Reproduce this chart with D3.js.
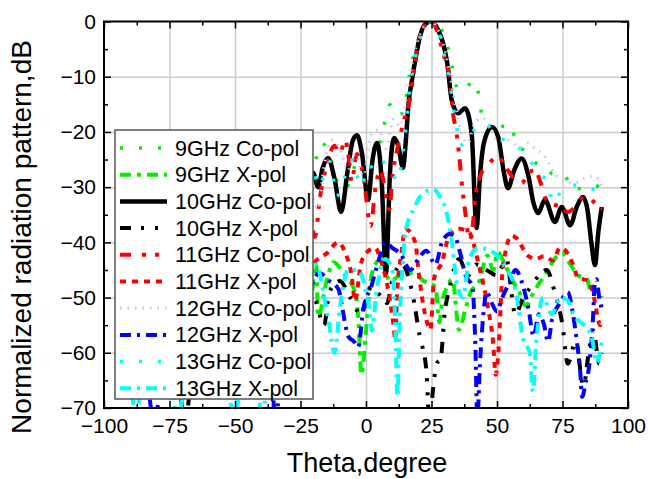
<!DOCTYPE html>
<html>
<head>
<meta charset="utf-8">
<title>Radiation pattern</title>
<script src="https://cdn.jsdelivr.net/npm/d3@7/dist/d3.min.js"></script>
<style>
body { margin: 0; background: #fff; }
text { font-family: "Liberation Sans", Arial, sans-serif; }
</style>
</head>
<body>
<script>
// [theta, dB] samples
var co9 = [[-90,-33],[-80,-30],[-70,-35],[-60,-29],[-50,-33],[-40,-28],[-30,-31],[-24,-27],[-20,-26],[-17,-22],[-14,-24],[-11,-29],[-8,-30.5],[-5,-27],[-1,-22.7],[2,-22],[4,-24],[6.9,-18.7],[9.2,-15.1],[11.5,-17],[14,-16.6],[16.8,-9.1],[18.7,-5.2],[21,-2],[25,0],[28.2,-1],[31.3,-4.8],[33,-8.4],[35.1,-12.4],[37.5,-12.5],[40.8,-10.7],[43.5,-14.4],[44.5,-18.2],[47,-19],[49.9,-17.8],[52.5,-19],[55.2,-18.6],[57.5,-22.4],[61,-23.5],[65.1,-25.7],[68,-26],[71.3,-27.6],[75,-27.5],[79.4,-30.5],[83,-30],[87.4,-29.6],[90,-31]];
var x9 = [[-90,-50],[-85,-55],[-80,-48],[-75,-53],[-70,-47],[-65,-56],[-60,-50],[-55,-54],[-50,-48],[-45,-55],[-40,-49],[-35,-53],[-30,-47],[-25,-52],[-21,-50],[-19,-44],[-18.3,-53.5],[-15,-47],[-12.5,-43.6],[-8,-46],[-4.2,-49],[-3,-53.3],[-1.7,-64],[0,-56],[1.5,-48],[3.5,-44],[6,-43],[9,-47],[13,-46],[18,-45.5],[22,-47],[26.5,-48],[28,-54.5],[29,-51],[31,-48],[33,-46.7],[35.5,-55.8],[38,-52],[40,-49],[43,-47.3],[46.4,-42.4],[48.5,-45],[50.3,-41.8],[53,-44],[56,-47],[58.5,-49],[61,-51.5],[64,-49],[68.8,-45.5],[72,-43],[75,-42],[78,-44],[81,-46],[84.2,-46.5],[86,-49],[89,-49],[90,-50]];
var co10 = [[-90,-34],[-85,-30],[-80,-36],[-75,-31],[-70,-38],[-65,-32],[-60,-40],[-55,-33],[-50,-36],[-45,-30],[-40,-38],[-35,-29],[-30,-35],[-25,-28],[-20.2,-27.4],[-18.3,-30],[-16.5,-26.5],[-14.5,-24.7],[-12,-28.5],[-9.5,-34.5],[-7,-27],[-5,-21.5],[-3.4,-20.6],[-1.5,-24],[0.8,-32.3],[2.5,-25],[4.2,-22],[6,-29],[7.6,-45.6],[9.2,-27],[10.7,-21.1],[12.3,-22.5],[14.1,-26.5],[15.3,-21],[16.2,-15],[17.4,-11],[19.3,-5.7],[20.6,-2.7],[23,-0.3],[25,0],[27.5,-1.5],[29.4,-3.9],[31,-7.5],[32.7,-14.2],[35.2,-16.6],[37.8,-15.7],[40.3,-20.2],[42.2,-37.4],[43.5,-28],[45,-22],[48,-19.1],[50.5,-21],[52.5,-27],[54.2,-30.2],[56.5,-27],[59.4,-24.8],[62,-28],[64,-33],[65.7,-34.7],[68.3,-32.3],[72.1,-36.3],[74.7,-33.6],[77.9,-36.9],[80.5,-33.5],[82.8,-31.8],[84.5,-34],[86,-40],[87.4,-44.1],[88.7,-38],[90,-33.6]];
var x10 = [[-90,-52],[-85,-58],[-80,-50],[-75,-55],[-72,-62],[-69,-73],[-66,-60],[-60,-52],[-55,-57],[-50,-50],[-45,-56],[-40,-52],[-35,-60],[-30,-51],[-25,-55],[-20,-50],[-16,-55],[-14,-49],[-10,-47],[-6,-50],[-2,-53],[2,-48],[6,-50],[8,-51],[10,-47],[13.7,-44],[17.6,-49],[20.5,-57],[23,-63],[24.3,-73],[25.5,-67],[27,-62],[28.5,-61],[30,-53],[32,-48],[35.5,-43],[39,-46],[42,-44],[46,-45],[50,-46],[53.5,-43],[57,-53],[60,-50],[63,-48],[66,-46],[69,-45],[72,-49],[75,-55],[77,-62],[80,-58],[83,-66],[85,-60],[86.8,-56],[89,-62],[90,-60]];
var co11 = [[-90,-36],[-80,-31],[-70,-38],[-60,-30],[-50,-37],[-40,-29],[-30,-34],[-22,-33],[-19.5,-39],[-17.6,-32],[-15,-26],[-12,-22.5],[-10,-24],[-8,-21.5],[-6.5,-25],[-5.5,-29],[-3.5,-24],[-1,-28],[1.8,-37],[3.5,-30.5],[5.5,-27],[7.5,-31],[9,-34],[10,-28.5],[12,-23],[14.7,-17.5],[16.8,-14],[18.7,-7.5],[21.3,-1.5],[25,0],[27,-1.5],[29.4,-5.7],[32,-10.6],[33.3,-17],[34.5,-20],[35.5,-24],[36.5,-29],[38,-35],[39.5,-39.5],[40.5,-38],[41.7,-32],[44,-27.5],[46,-26.3],[50.4,-24.5],[53.5,-26.5],[56.9,-28.7],[59.4,-29.3],[62,-27.5],[64.5,-26.9],[66.5,-29],[68.3,-31.8],[71,-33],[74.7,-33.6],[77,-34.5],[79.8,-33.6],[82.5,-32],[85,-32],[87.4,-32.9],[90,-34]];
var x11 = [[-90,-48],[-85,-53],[-80,-45],[-75,-50],[-70,-44],[-65,-52],[-60,-46],[-55,-50],[-50,-44],[-45,-51],[-40,-45],[-35,-52],[-30,-46],[-25,-48],[-19.6,-43.6],[-15,-42],[-10.6,-40],[-8,-41.8],[-5.5,-46],[-4.2,-50.6],[-2,-44],[0,-42],[3.5,-41],[5.5,-43],[7.3,-46],[9,-50],[10.5,-55],[11.2,-57.6],[11.8,-50],[13.5,-42],[15,-37.6],[18.8,-40],[20,-45],[21.4,-50],[23,-54],[24.6,-55.8],[26,-46.5],[29,-43.6],[31.7,-38.8],[35,-37.5],[39.4,-38.2],[41.5,-41],[43,-44],[45,-48],[47,-53],[48.5,-58],[49.5,-64],[50.5,-60],[52,-46],[53.5,-41.2],[55.4,-38.8],[58,-39.5],[60,-41.2],[62,-42.5],[65,-43],[68,-42.5],[71.4,-43.3],[74,-41],[77,-42],[79,-44],[81,-46.5],[83,-46.7],[85,-47],[87,-50],[89.4,-55],[90,-54]];
var co12 = [[-90,-35],[-70,-32],[-50,-36],[-30,-30],[-22,-30],[-18.3,-34],[-16,-26],[-13,-21.5],[-10,-23],[-7,-27],[-4,-24],[-1,-28],[2,-20.5],[5,-19.6],[7.5,-23],[10.6,-17.7],[13,-19],[15,-15],[17,-9],[19.5,-4],[22,-1],[25,0],[28,-2],[30,-5],[32,-9.5],[33.5,-13.5],[35,-17],[37,-21],[39,-22],[41,-19],[44,-17.5],[47,-18.5],[50,-21.6],[54,-21.5],[59,-22.8],[62,-22],[64,-22.8],[68.5,-24.6],[72,-27.6],[75,-28.5],[79,-29.4],[83,-28.5],[87.5,-28],[90,-30]];
var x12 = [[-90,-55],[-85,-60],[-80.5,-73],[-78,-62],[-72,-55],[-65,-58],[-60,-52],[-55,-56],[-50,-51],[-45,-57],[-40,-54],[-36,-62],[-34.7,-73],[-32,-60],[-27,-52],[-23,-50],[-20,-47],[-18,-45.5],[-14,-47],[-10.5,-48.5],[-9,-52],[-6.8,-57],[-4.5,-58],[-3,-59],[-1,-52],[2,-48],[5,-43],[7.5,-40],[10,-41],[13,-42],[17,-45],[20,-43],[23,-41.5],[26.5,-44],[29,-40],[32,-38.5],[34,-39],[36,-42],[38,-46],[40.6,-48],[41.7,-58],[42.5,-72],[43.5,-62],[45,-52],[46,-49],[48,-51],[50,-52.5],[52,-50],[55,-47],[57,-45],[60,-48],[62,-52],[64,-57],[66,-53],[68,-55],[69.5,-58],[71,-54],[74,-51],[77,-49],[79,-53],[80.5,-58],[81.7,-63],[82.5,-68],[84,-65],[85,-63],[86.5,-55],[87.4,-47],[88,-46.7],[89,-50],[90,-52]];
var co13 = [[-90,-36],[-75,-30],[-60,-34],[-45,-29],[-30,-33],[-22,-31],[-20,-27],[-18.3,-30],[-16,-28],[-13.7,-25.4],[-11.2,-31.7],[-8,-28],[-5,-25],[-2,-30],[1,-26],[4,-27.2],[7,-25.5],[9.5,-27],[12.2,-29],[13.6,-25.4],[15.5,-18],[17,-11.5],[19,-6],[21,-2.5],[25,0],[29,-4],[30.5,-7.6],[32,-11],[33.3,-15.5],[34.6,-19],[35.5,-22.5],[37.5,-22],[40.3,-20.2],[42.5,-19],[45,-18.4],[48,-19.5],[51.1,-20.9],[55,-22],[59.4,-23.3],[63,-25.5],[66,-27],[68.3,-28.7],[70,-31],[72.1,-32.9],[74,-31],[76.5,-30],[81,-29.6],[84,-30],[87,-30.5],[90,-32.3]];
var x13 = [[-90,-58],[-88,-73],[-85,-60],[-80,-52],[-75,-60],[-71.8,-73],[-68,-58],[-62,-52],[-56,-55],[-50,-72],[-46,-56],[-42,-60],[-39.7,-73],[-37,-58],[-32,-50],[-27,-47],[-22,-46],[-19,-44],[-16,-49.7],[-14,-55],[-12,-60],[-10,-52],[-6.8,-45],[-3,-45],[0,-49],[1.5,-53],[2.2,-56],[4,-49],[7.3,-43],[10,-45],[11.2,-55],[12,-68],[12.8,-55],[14,-44],[15,-38.3],[18.7,-33.5],[21,-31.5],[25.6,-30.4],[28,-31.5],[30.8,-34.7],[32.7,-39.6],[34.5,-47],[37,-50],[39.4,-43],[43,-41],[48.5,-41.8],[53.5,-44.8],[57,-48.5],[60,-57.6],[62.5,-60],[63.7,-67],[65,-58],[67.5,-50],[71,-53],[74,-50],[77,-50.5],[79,-53],[82,-54.5],[85,-55.8],[86.5,-58],[88,-61.8],[90,-58]];

var seriesNames = ["9GHz Co-pol","9GHz X-pol","10GHz Co-pol","10GHz X-pol","11GHz Co-pol","11GHz X-pol","12GHz Co-pol","12GHz X-pol","13GHz Co-pol","13GHz X-pol"];
var seriesData = [co9, x9, co10, x10, co11, x11, co12, x12, co13, x13];
var xTicks = [-100,-75,-50,-25,0,25,50,75,100];
var yTicks = [0,-10,-20,-30,-40,-50,-60,-70];

// line looks
var styles = [
	{color: "#00f000", w: 3.5, dash: "3,16"},
	{color: "#00f000", w: 4, dash: "11,6,4,6"},
	{color: "#000000", w: 4.5, dash: null},
	{color: "#000000", w: 4, dash: "11,10,3,11,3,9"},
	{color: "#ff0000", w: 4, dash: "11,11,4,9,4,8"},
	{color: "#ff0000", w: 4, dash: "6,6"},
	{color: "#c4c4ff", w: 3, dash: "1.5,6"},
	{color: "#0000ff", w: 4, dash: "11,6,3,6"},
	{color: "#00ffff", w: 3.5, dash: "3,16"},
	{color: "#00ffff", w: 4, dash: "11,6,3,6"}
];

var margin = {top: 21.5, left: 104},
	width = 524, height = 386.5;

var svg = d3.select("body").append("svg")
	.attr("width", 648)
	.attr("height", 479);

var g = svg.append("g")
	.attr("transform", "translate(" + margin.left + "," + margin.top + ")");

var x = d3.scaleLinear().domain([-100, 100]).range([0, width]);
var y = d3.scaleLinear().domain([-70, 0]).range([height, 0]);

// grid
g.append("g")
	.attr("transform", "translate(0," + height + ")")
	.call(d3.axisBottom(x).tickValues(xTicks.slice(1, -1)).tickSize(-height).tickFormat(""))
	.call(s => s.select(".domain").remove())
	.selectAll("line").attr("stroke", "#cccccc").attr("stroke-width", 1.5);
g.append("g")
	.call(d3.axisLeft(y).tickValues(yTicks.slice(1, -1)).tickSize(-width).tickFormat(""))
	.call(s => s.select(".domain").remove())
	.selectAll("line").attr("stroke", "#cccccc").attr("stroke-width", 1.5);

// curves
g.append("clipPath").attr("id", "clip")
	.append("rect").attr("width", width).attr("height", height);

var line = d3.line()
	.x(d => x(d[0]))
	.y(d => y(d[1]))
	.curve(d3.curveMonotoneX);

var plot = g.append("g").attr("clip-path", "url(#clip)");
seriesData.forEach(function(d, i) {
	plot.append("path")
		.datum(d)
		.attr("d", line)
		.attr("fill", "none")
		.attr("stroke", styles[i].color)
		.attr("stroke-width", styles[i].w)
		.attr("stroke-dasharray", styles[i].dash);
});

// axes, ticks inward on all four sides
var xMinor = d3.range(-87.5, 100, 25), yMinor = d3.range(-65, 0, 10);
function styleAxis(s) {
	s.select(".domain").remove();
	s.selectAll("line").attr("stroke", "#000").attr("stroke-width", 1.5);
	s.selectAll("text").style("font-size", "21px").attr("fill", "#000");
}
g.append("g").attr("transform", "translate(0," + height + ")")
	.call(d3.axisBottom(x).tickValues(xTicks).tickSize(-7).tickPadding(10)).call(styleAxis);
g.append("g").attr("transform", "translate(0," + height + ")")
	.call(d3.axisBottom(x).tickValues(xMinor).tickSize(-4).tickFormat("")).call(styleAxis);
g.append("g")
	.call(d3.axisTop(x).tickValues(xTicks).tickSize(-7).tickFormat("")).call(styleAxis);
g.append("g")
	.call(d3.axisTop(x).tickValues(xMinor).tickSize(-4).tickFormat("")).call(styleAxis);
g.append("g")
	.call(d3.axisLeft(y).tickValues(yTicks).tickSize(-7).tickPadding(8)).call(styleAxis);
g.append("g")
	.call(d3.axisLeft(y).tickValues(yMinor).tickSize(-4).tickFormat("")).call(styleAxis);
g.append("g").attr("transform", "translate(" + width + ",0)")
	.call(d3.axisRight(y).tickValues(yTicks).tickSize(-7).tickFormat("")).call(styleAxis);
g.append("g").attr("transform", "translate(" + width + ",0)")
	.call(d3.axisRight(y).tickValues(yMinor).tickSize(-4).tickFormat("")).call(styleAxis);

g.append("rect")
	.attr("width", width).attr("height", height)
	.attr("fill", "none").attr("stroke", "#000").attr("stroke-width", 2);

// legend
var legend = svg.append("g").attr("transform", "translate(115,130)");
legend.append("rect")
	.attr("width", 198).attr("height", 269)
	.attr("fill", "#fff").attr("stroke", "#555").attr("stroke-width", 1.5);
seriesNames.forEach(function(name, i) {
	var ly = 18 + i * 26.7;
	legend.append("line")
		.attr("x1", 5).attr("x2", 52).attr("y1", ly).attr("y2", ly)
		.attr("stroke", styles[i].color)
		.attr("stroke-width", styles[i].w)
		.attr("stroke-dasharray", styles[i].dash);
	legend.append("text")
		.attr("x", 60).attr("y", ly).attr("dy", "0.35em")
		.style("font-size", "21.5px")
		.text(name);
});

// axis titles
svg.append("text")
	.attr("x", 367).attr("y", 472)
	.attr("text-anchor", "middle")
	.style("font-size", "27px")
	.text("Theta,degree");

svg.append("text")
	.attr("transform", "translate(31,237) rotate(-90)")
	.attr("text-anchor", "middle")
	.style("font-size", "28px")
	.text("Normalized radiation pattern,dB");
</script>
</body>
</html>
